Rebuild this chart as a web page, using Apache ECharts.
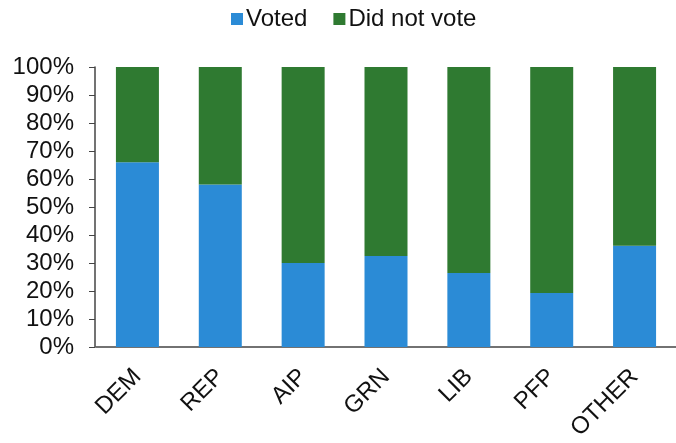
<!DOCTYPE html>
<html lang="en">
	<head>
		<meta charset="UTF-8">
		<title>Voted vs did not vote</title>
		<script src="https://cdn.jsdelivr.net/npm/echarts@6/dist/echarts.min.js"></script>
		<style>
			html, body { margin: 0; padding: 0; background: #fff; }
			#chart { width: 676px; height: 443px; }
		</style>
	</head>
	<body>
		<div id="chart"></div>

		<script>
			// party categories
			const parties = ['DEM', 'REP', 'AIP', 'GRN', 'LIB', 'PFP', 'OTHER'];
			// share of each party (percent)
			const voted = [66, 58, 30, 32.5, 26.4, 19.3, 36.2];
			const didNotVote = [34, 42, 70, 67.5, 73.6, 80.7, 63.8];

			const chartDom = document.getElementById('chart');
			const chart = echarts.init(chartDom);

			const font = 'Liberation Sans, Arial, sans-serif';

			const option = {
				animation: false,
				textStyle: { fontFamily: font },
				legend: {
					left: 226,
					top: 2,
					itemWidth: 12,
					itemHeight: 12,
					itemGap: 26,
					icon: 'rect',
					textStyle: { fontSize: 24, color: '#111', fontFamily: font, padding: [0, 0, 0, -2] }
				},
				grid: {
					left: 96,
					right: -7,
					top: 67,
					bottom: 95,
					containLabel: false
				},
				xAxis: {
					type: 'category',
					data: parties,
					axisLine: { lineStyle: { color: '#444', width: 1.5 } },
					axisTick: { show: false },
					axisLabel: {
						rotate: 45,
						margin: 26,
						fontSize: 24,
						color: '#111',
						fontFamily: font
					}
				},
				yAxis: {
					type: 'value',
					min: 0,
					max: 100,
					interval: 10,
					offset: 1,
					axisLine: { show: true, lineStyle: { color: '#444', width: 1.5 } },
					axisTick: { show: true, inside: false, length: 6, lineStyle: { color: '#444' } },
					splitLine: { show: false },
					axisLabel: {
						formatter: '{value}%',
						margin: 21,
						padding: [6, 0, 0, 0],
						fontSize: 24,
						color: '#111',
						fontFamily: font
					}
				},
				series: [
					{
						name: 'Voted',
						type: 'bar',
						stack: 'total',
						barWidth: 43,
						data: voted,
						itemStyle: { color: '#2b8bd6' }
					},
					{
						name: 'Did not vote',
						type: 'bar',
						stack: 'total',
						barWidth: 43,
						data: didNotVote,
						itemStyle: { color: '#2f7a31' }
					}
				]
			};

			chart.setOption(option);
		</script>
	</body>
</html>
